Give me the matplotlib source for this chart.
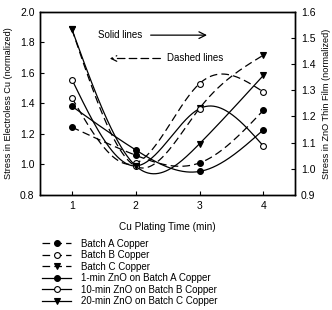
import numpy as np
import matplotlib
matplotlib.use("Agg")
import matplotlib.pyplot as plt
from matplotlib.lines import Line2D

plt.rcParams['font.family'] = ['Liberation Sans', 'DejaVu Sans']
plt.rcParams['lines.scale_dashes'] = False

# Cu plating time (min)
times = [1, 2, 3, 4]

# stress in electroless Cu (normalized) -> left axis, dashed
cu_batch_a = [1.244, 1.060, 1.010, 1.355]
cu_batch_b = [1.436, 1.008, 1.530, 1.475]
cu_batch_c = [1.885, 0.988, 1.368, 1.716]

# stress in ZnO thin film (normalized) -> right axis, solid
zno_1min_a = [1.239, 1.072, 0.990, 1.149]
zno_10min_b = [1.341, 1.011, 1.230, 1.087]
zno_20min_c = [1.533, 1.011, 1.096, 1.357]

labels = ["Batch A Copper", "Batch B Copper", "Batch C Copper",
          "1-min ZnO on Batch A Copper", "10-min ZnO on Batch B Copper",
          "20-min ZnO on Batch C Copper"]


def natural_spline(x, y, xs):
    # plain natural cubic spline through the points
    x = np.asarray(x, float)
    y = np.asarray(y, float)
    n = len(x)
    h = np.diff(x)
    A = np.zeros((n, n))
    b = np.zeros(n)
    A[0, 0] = A[-1, -1] = 1
    for i in range(1, n - 1):
        A[i, i - 1] = h[i - 1]
        A[i, i] = 2 * (h[i - 1] + h[i])
        A[i, i + 1] = h[i]
        b[i] = 6 * ((y[i + 1] - y[i]) / h[i] - (y[i] - y[i - 1]) / h[i - 1])
    M = np.linalg.solve(A, b)
    k = np.clip(np.searchsorted(x, xs) - 1, 0, n - 2)
    t0 = x[k + 1] - xs
    t1 = xs - x[k]
    hk = h[k]
    return (M[k] * t0 ** 3 / (6 * hk) + M[k + 1] * t1 ** 3 / (6 * hk)
            + (y[k] / hk - M[k] * hk / 6) * t0
            + (y[k + 1] / hk - M[k + 1] * hk / 6) * t1)


fig = plt.figure(figsize=(3.32, 3.10), dpi=100)
ax = fig.add_axes([0.1205, 0.371, 0.769, 0.591])
ax2 = ax.twinx()

xs = np.linspace(1, 4, 300)


def curve(axis, y, marker, face, dashed):
    ls = dict(color='black', lw=0.9)
    if dashed:
        ls['dashes'] = (5.5, 3)
    axis.plot(xs, natural_spline(times, y, xs), **ls)
    axis.plot(times, y, linestyle='none', marker=marker, ms=4.2,
              mfc=face, mec='black', mew=0.8, zorder=5)
    h = Line2D([], [], color='black', lw=0.9, marker=marker, ms=4.2,
               mfc=face, mec='black', mew=0.8)
    if dashed:
        h.set_dashes((5.5, 3))
    return h


handles = [
    curve(ax, cu_batch_a, 'o', 'black', True),
    curve(ax, cu_batch_b, 'o', 'white', True),
    curve(ax, cu_batch_c, 'v', 'black', True),
    curve(ax2, zno_1min_a, 'o', 'black', False),
    curve(ax2, zno_10min_b, 'o', 'white', False),
    curve(ax2, zno_20min_c, 'v', 'black', False),
]

ax.set_xlim(0.5, 4.5)
ax.set_ylim(0.8, 2.0)
ax.set_xticks(times)
ax.set_yticks(np.arange(0.8, 2.01, 0.2))
ax.yaxis.set_major_formatter(matplotlib.ticker.FormatStrFormatter('%.1f'))
ax2.set_ylim(0.9, 1.6)
ax2.set_yticks(np.arange(0.9, 1.61, 0.1))
ax2.yaxis.set_major_formatter(matplotlib.ticker.FormatStrFormatter('%.1f'))

for a in (ax, ax2):
    a.tick_params(direction='in', length=3, width=0.8, labelsize=7.5, pad=4)
    for s in a.spines.values():
        s.set_linewidth(1.0)

ax.set_xlabel("Cu Plating Time (min)", fontsize=7.2, labelpad=8)
ax.set_ylabel("Stress in Electroless Cu (normalized)", fontsize=6.6, labelpad=5)
ax2.set_ylabel("Stress in ZnO Thin Film (normalized)", fontsize=6.6,
               rotation=90, labelpad=5)

# line-style notes
ax.text(1.76, 1.847, "Solid lines", fontsize=7, ha='center', va='center')
ax.annotate("", xy=(3.16, 1.847), xytext=(2.19, 1.847),
            arrowprops=dict(arrowstyle='->', lw=0.9, color='black',
                            mutation_scale=12))
ax.text(2.49, 1.694, "Dashed lines", fontsize=7, ha='left', va='center')
ax.annotate("", xy=(1.55, 1.694), xytext=(2.43, 1.694),
            arrowprops=dict(arrowstyle='->', lw=0.9, color='black',
                            linestyle=(0, (5.5, 3)), mutation_scale=10))

fig.legend(handles, labels, loc='upper left', bbox_to_anchor=(0.115, 0.243),
           frameon=False, fontsize=7, handlelength=3.0, handletextpad=1.0,
           labelspacing=0.16, borderaxespad=0)

fig.savefig("out.png", dpi=100)
